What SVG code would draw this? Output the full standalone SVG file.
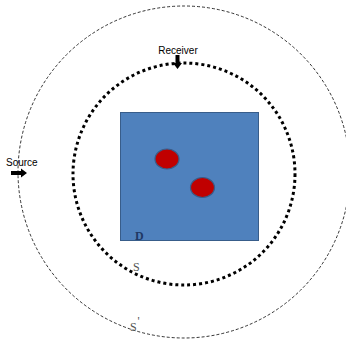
<svg xmlns="http://www.w3.org/2000/svg" width="346" height="339" viewBox="0 0 346 339">
<style>
.lbl{font-family:"Liberation Sans",Arial,sans-serif;font-size:10px;fill:#000}
.ser{font-family:"Liberation Serif","Times New Roman",serif;font-size:12px}
</style>
<rect width="346" height="339" fill="#fff"/>
<g id="outer-circle"><circle cx="184" cy="172" r="166" fill="none" stroke="#000" stroke-width="0.8" stroke-dasharray="3 2"/></g>
<g id="inner-circle"><circle cx="184" cy="174" r="111" fill="none" stroke="#000" stroke-width="3" stroke-dasharray="3 3"/></g>
<g id="square"><rect x="120.5" y="112.5" width="138" height="128" fill="#4F81BD" stroke="#385D8A" stroke-width="1"/></g>
<g id="scatterer1"><ellipse cx="167" cy="159" rx="12" ry="10" fill="#C00000" stroke="#385D8A" stroke-width="1.2"/></g>
<g id="scatterer2"><ellipse cx="202.5" cy="187.5" rx="12" ry="10" fill="#C00000" stroke="#385D8A" stroke-width="1.2"/></g>
<g id="receiver">
<text class="lbl" x="178" y="54" text-anchor="middle">Receiver</text>
<path d="M175.5 55 H179.5 V63 H182 L177.5 69 L173 63 H175.5 Z" fill="#000"/>
</g>
<g id="source">
<text class="lbl" x="6" y="166">Source</text>
<path d="M11 171 H21 V168.5 L27 173 L21 177.5 V175 H11 Z" fill="#000"/>
</g>
<g id="labels">
<text class="ser" x="135" y="240" fill="#1F3864" font-weight="bold" font-size="11">D</text>
<text class="ser" x="133" y="271" fill="#555">S</text>
<text class="ser" x="130" y="331" fill="#555">S</text>
<text class="ser" x="137.5" y="325" fill="#555" font-size="7">'</text>
</g>
<g id="connectors"></g>
</svg>
